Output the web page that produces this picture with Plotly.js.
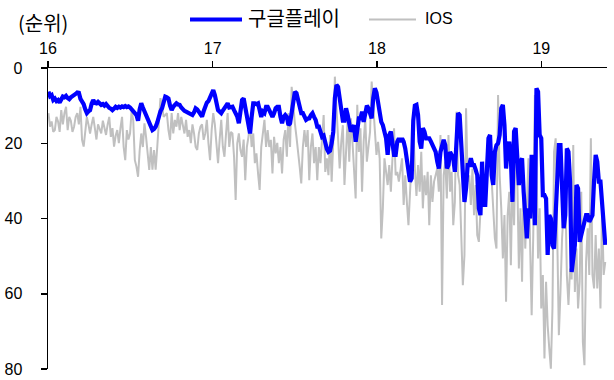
<!DOCTYPE html>
<html>
<head>
<meta charset="utf-8">
<script src="https://cdn.plot.ly/plotly-3.0.1.min.js"></script>
<style>
  html, body { margin: 0; padding: 0; background: #fff; }
  #chart { width: 614px; height: 380px; }
</style>
</head>
<body>
<div id="chart"></div>
<script>
// Readings taken roughly every 3.5 days, starting 2 Jan 2016
const startDate = '2016-01-02';
const stepDays = 3.555;

const seriesNames = ['구글플레이', 'IOS'];
const yTickVals = [0, 20, 40, 60, 80];
const xTickLabels = ['16', '17', '18', '19'];
const xTickDates = ['2016-01-01', '2017-01-01', '2018-01-01', '2019-01-01'];

const googlePlay = [
  6.3, 7.5, 7.2, 8.5, 8.1, 8.8, 8.5, 9.2, 8.4, 7.6,
  7.8, 7.4, 8.0, 8.3, 7.8, 7.6, 7.2, 6.9, 6.5, 6.6,
  8.2, 9.0, 9.6, 11, 12, 11.5, 11.2, 9.5, 8.5, 9.3,
  9.4, 9.0, 9.3, 9.8, 9.6, 10, 9.6, 10.2, 10.6, 10.8,
  11.2, 10.8, 10.3, 10.6, 10.3, 10.5, 10.2, 10.4, 10.1, 10.4,
  10.2, 10.5, 10.9, 11.5, 12, 12.5, 14, 11, 9.4, 10.5,
  11.5, 12.5, 14, 15, 15.8, 16.5, 16.2, 15.6, 14.5, 12.5,
  11.5, 10.7, 9, 7.6, 7.8, 8.1, 10, 11.2, 10.3, 9.6,
  9.4, 9.7, 9.8, 10.5, 11.2, 11.4, 11.6, 11.8, 12, 12.2,
  12.5, 11.8, 10.7, 11, 11.6, 12.2, 12.9, 11.5, 9.8, 9.2,
  8.8, 8.0, 7.0, 5.9, 7.2, 9.5, 11.2, 11.6, 12, 11.3,
  10.7, 10, 9.4, 10.5, 10.5, 10.3, 11.2, 12, 12.9, 14.7,
  12, 8.5, 8.1, 10.5, 14, 16.5, 17.4, 13, 9.4, 9.4,
  9.6, 9.4, 12, 13, 11.6, 12, 10.3, 10.3, 11.2, 12,
  13, 12, 10.7, 10.3, 10.3, 13, 14.7, 13, 12.5, 13,
  15.2, 14.7, 12, 8.5, 6.3, 6.7, 8.5, 10.3, 12, 12,
  13, 13.8, 13.5, 13.4, 12.5, 12, 13, 13.8, 15.6, 15.6,
  16.9, 18.3, 18, 20, 21.5, 22.3, 22, 20, 17, 8,
  4.5, 5, 8, 12, 14, 14, 10.7, 12.5, 15.2, 16.9,
  16, 15.2, 19.6, 16.9, 13.4, 13.4, 11.6, 14.3, 11.6, 10,
  10.7, 12, 13.4, 8, 5.4, 6.5, 9, 12.5, 14.3, 15.2,
  17.8, 18.7, 23.1, 17.8, 16.9, 19.6, 23.1, 23.1, 19.6, 18.7,
  19.6, 18.7, 19.6, 21.4, 24, 26.7, 30.2, 29.3, 14, 10,
  9.8, 12.5, 19.6, 21.4, 16, 16.9, 18.7, 18.7, 18.7, 19.5,
  20.5, 21, 22.3, 24.9, 26.7, 22.3, 20.5, 19.1, 20.5, 26.7,
  25.8, 22.3, 23.1, 24, 27.6, 17.8, 12, 12.5, 19.6, 24,
  35.6, 32, 25.8, 25.8, 24, 25.8, 25.8, 27, 28.5, 37.3,
  39.1, 24.9, 36.4, 36.4, 26.7, 18.7, 17.8, 28.5, 31.1, 22.3,
  20.5, 20, 17.8, 10.7, 9.8, 15.2, 26.7, 21.4, 19.6, 24,
  35.6, 16.9, 16, 22.3, 31.1, 24.9, 24, 32.9, 40, 45.3,
  37.3, 40, 23.1, 28.5, 41.8, 5.4, 6.3, 17.8, 18.7, 33.8,
  33.8, 34.7, 49.7, 39.1, 40, 47.1, 48, 37.3, 28, 20.5,
  20.5, 35, 42.6, 39.1, 21.4, 22.3, 30.2, 54.2, 51.5, 47.1,
  31.1, 32, 46.2, 44.4, 42.6, 40, 39.1, 39.1, 40.9, 40,
  39.1, 30, 23.1, 24.9, 30.2, 30.2, 36.4, 40, 47
];

const ios = [
  12, 15.6, 14.2, 17, 16.5, 13, 14.2, 17, 11.2, 15,
  12, 10.3, 16.5, 13, 14, 17, 15.6, 13, 12, 15,
  10.3, 19.1, 20.9, 16, 13, 15, 17.4, 15, 13, 16,
  19, 15, 16.5, 17.4, 14, 16, 17.8, 15, 13, 18.3,
  16, 20.9, 18, 16.5, 20, 16, 13, 21, 24.5, 16.5,
  19, 17.4, 11.2, 14, 24.5, 26.2, 28.9, 22, 17.4, 21,
  14.7, 18.3, 23.6, 27.1, 21, 27, 21.8, 27, 21, 14.7,
  8, 10, 13, 12.5, 12, 16.5, 19.1, 12, 17.4, 13.8,
  15.6, 12, 16.5, 13, 15.6, 17.4, 13.8, 18.3, 16.5, 20,
  15, 17.4, 21, 21.8, 17.4, 15.6, 15, 19.1, 17.4, 13.8,
  20, 24.5, 16.5, 12, 15, 20, 25.3, 19, 13.8, 21,
  23.6, 17.4, 12, 21, 17, 17.4, 23.6, 35.1, 20, 17.4,
  21.8, 23.6, 19, 29.8, 21, 18.3, 14.7, 21, 17.4, 25.3,
  22.7, 28, 32.4, 21, 17.4, 13.8, 21, 16.5, 21, 19.1,
  28, 18.3, 22.7, 19.9, 25.3, 21, 28, 19, 16.5, 23.6,
  12, 21, 5, 11.2, 14.7, 18.3, 21.8, 26.2, 30.7, 21,
  16.5, 21, 16.5, 29.8, 21, 17.4, 25.3, 21, 29.8, 21,
  25.3, 19, 12.5, 27.6, 24, 28.5, 17.8, 30.2, 19.6, 2.3,
  10.7, 19.6, 26.7, 19.6, 15.2, 31.1, 19.6, 13.4, 24.9, 13.4,
  19.6, 29.3, 34.7, 9.8, 22.3, 16, 32.9, 19.6, 13.4, 24.9,
  20, 16.9, 3.6, 10.7, 15.2, 23.1, 19.6, 24, 45.3, 37.3,
  24, 28.5, 31.1, 25.8, 32.9, 24, 16, 28.5, 27.6, 30.2,
  26.7, 24, 36.4, 28.5, 35.6, 41.8, 32.9, 24, 15.2, 26.7,
  34, 25.8, 32.9, 22.3, 37.3, 28.5, 33.8, 27.6, 41.8, 28.5,
  35.6, 30.2, 28, 26.7, 32.9, 17.8, 63, 28.5, 24.9, 34.7,
  17.8, 32.9, 27.6, 41.8, 35.6, 11.6, 28.5, 31.1, 44.4, 57.7,
  49.7, 10.7, 30.2, 28.5, 36.4, 26.7, 39.1, 31.1, 44.4, 46.2,
  38, 30.2, 33.8, 30.2, 24, 19.6, 22, 30.2, 37.3, 45.3,
  48, 7.2, 28.5, 37.3, 50.6, 39.1, 62.1, 39.1, 32.9, 52.4,
  28.5, 41.8, 19.6, 28.5, 53.3, 37.3, 56.8, 28.5, 48, 36,
  24, 46.2, 65.7, 44.4, 7.2, 24, 50.6, 37.3, 63.9, 55,
  77.2, 56.8, 68.4, 74.5, 79.9, 63.9, 22.3, 18.7, 46.2, 71,
  59.5, 45.3, 38, 31.1, 55, 63, 53.3, 56.2, 20.5, 59.5,
  48, 63.9, 56.8, 32.9, 72.8, 79, 51.5, 42.6, 55, 18.7,
  55, 58.6, 44.4, 58.6, 48, 63.9, 37.3, 55, 51.5
];

function buildDates(n) {
  const t0 = Date.parse(startDate + 'T00:00:00Z');
  const out = [];
  for (let i = 0; i < n; i++) {
    out.push(new Date(t0 + Math.round(i * stepDays * 86400000)).toISOString().slice(0, 19).replace('T', ' '));
  }
  return out;
}
const datesG = buildDates(googlePlay.length);
const datesI = buildDates(ios.length);

const BLUE = '#0000FF';
const GRAY = '#C0C0C0';
const FONT = 'Liberation Sans, Arial, sans-serif';
const KFONT = 'Noto Sans CJK KR, Liberation Sans, sans-serif';

const traces = [
  {
    x: datesI, y: ios, name: seriesNames[1], type: 'scatter', mode: 'lines',
    line: { color: GRAY, width: 2 }, showlegend: false, hoverinfo: 'skip'
  },
  {
    x: datesG, y: googlePlay, name: seriesNames[0], type: 'scatter', mode: 'lines',
    line: { color: BLUE, width: 4.2 }, showlegend: false, hoverinfo: 'skip'
  }
];

// paper coordinate helpers for legend placement (plot area: l=48, t=68, w=559, h=301)
const px = v => (v - 48) / 559;
const py = v => (369 - v) / 301;

const layout = {
  width: 614, height: 380,
  margin: { l: 48, r: 7, t: 68, b: 11, pad: 0 },
  paper_bgcolor: '#fff', plot_bgcolor: '#fff',
  showlegend: false,
  font: { family: FONT, size: 16, color: '#000' },
  xaxis: {
    type: 'date',
    range: ['2016-01-01', '2019-05-27'],
    side: 'top',
    tickmode: 'array',
    tickvals: xTickDates,
    ticktext: xTickLabels,
    ticks: 'outside', ticklen: 6, tickwidth: 1.5, tickcolor: '#000',
    showline: true, linecolor: '#000', linewidth: 1.5,
    showgrid: false, zeroline: false,
    tickfont: { family: FONT, size: 16, color: '#000' }
  },
  yaxis: {
    range: [80, 0],
    tickmode: 'array',
    tickvals: yTickVals,
    ticks: 'outside', ticklen: 6, tickwidth: 1.5, tickcolor: '#000',
    ticklabelstandoff: 15,
    showline: true, linecolor: '#000', linewidth: 1.5,
    showgrid: false, zeroline: false,
    tickfont: { family: FONT, size: 16, color: '#000' }
  },
  shapes: [
    { type: 'line', xref: 'paper', yref: 'paper', x0: px(190), x1: px(242), y0: py(19.5), y1: py(19.5),
      line: { color: BLUE, width: 4 } },
    { type: 'line', xref: 'paper', yref: 'paper', x0: px(369), x1: px(416), y0: py(19.5), y1: py(19.5),
      line: { color: GRAY, width: 2 } }
  ],
  annotations: [
    { xref: 'paper', yref: 'paper', x: px(246), y: py(17.5), xanchor: 'left', yanchor: 'middle',
      text: seriesNames[0], showarrow: false, font: { family: KFONT, size: 20, color: '#000' } },
    { xref: 'paper', yref: 'paper', x: px(423), y: py(19), xanchor: 'left', yanchor: 'middle',
      text: seriesNames[1], showarrow: false, font: { family: FONT, size: 16, color: '#000' } },
    { xref: 'paper', yref: 'paper', x: px(16), y: py(22), xanchor: 'left', yanchor: 'middle',
      text: '(순위)', showarrow: false, font: { family: KFONT, size: 20, color: '#000' } }
  ]
};

Plotly.newPlot('chart', traces, layout, { staticPlot: true, displayModeBar: false });
</script>
</body>
</html>
